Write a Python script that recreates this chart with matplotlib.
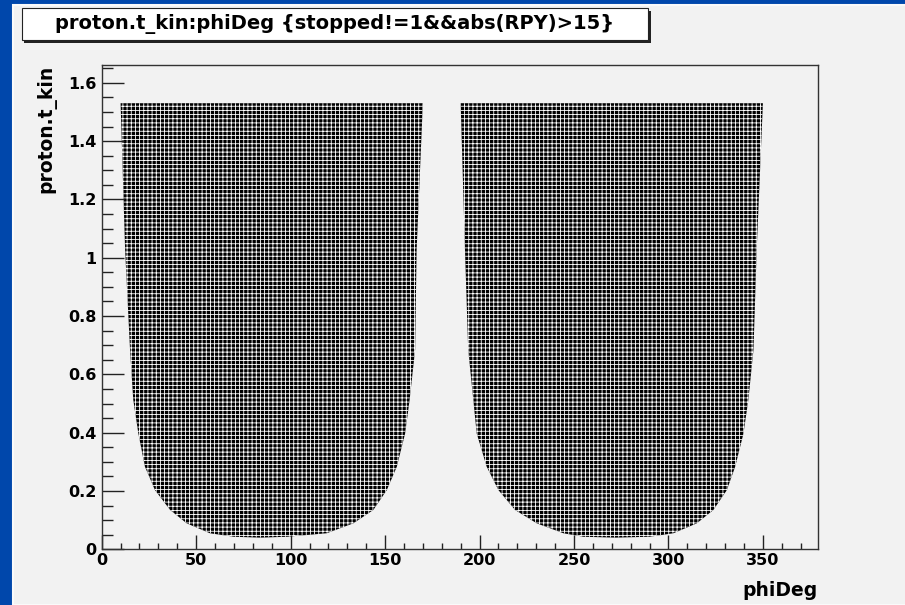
"""
proton.t_kin vs phiDeg, ROOT style canvas
"""
import numpy as np
import matplotlib
matplotlib.use('Agg')
import matplotlib.pyplot as plt
from matplotlib.patches import Rectangle
from matplotlib.ticker import MultipleLocator, FormatStrFormatter

# lower envelope of the populated band, top is flat
phi_left = [10, 12.4, 15.0, 16.7, 19.4, 22.9, 28.2, 36.2, 45, 57.3, 70, 84, 98,
            119.1, 133.2, 143.8, 150.9, 156.2, 160.6, 163, 165.9, 166.7, 170]
tmin_left = [1.53, 1.026, 0.684, 0.513, 0.397, 0.283, 0.203, 0.135, 0.089, 0.055, 0.043, 0.040, 0.043,
             0.055, 0.089, 0.135, 0.203, 0.283, 0.397, 0.513, 0.684, 1.026, 1.53]

phi_right = [190, 192.3, 194, 196.7, 198.5, 203.8, 210, 218.8, 230.3, 244.4, 255, 272, 290,
             302.6, 315, 323.8, 330.9, 335.3, 339.7, 342.3, 345, 346.7, 350]
tmin_right = [1.53, 1.026, 0.684, 0.513, 0.397, 0.283, 0.203, 0.135, 0.089, 0.055, 0.043, 0.040, 0.043,
              0.055, 0.089, 0.135, 0.203, 0.283, 0.397, 0.513, 0.684, 1.026, 1.53]

t_max = 1.53

x_ticks = [0, 50, 100, 150, 200, 250, 300, 350]
y_ticks = [0, 0.2, 0.4, 0.6, 0.8, 1.0, 1.2, 1.4, 1.6]

title_text = "proton.t_kin:phiDeg {stopped!=1&&abs(RPY)>15}"

plt.rcParams['font.family'] = 'DejaVu Sans'
plt.rcParams['font.weight'] = 'bold'
plt.rcParams['hatch.color'] = 'white'
plt.rcParams['hatch.linewidth'] = 0.6

W, H = 905, 605
fig = plt.figure(figsize=(W / 100., H / 100.), dpi=100, facecolor='#0047ab')

# grey canvas pad (thin light rim like the ROOT canvas border)
fig.patches.append(Rectangle((12.5 / W, 0), 1, (H - 5) / float(H), transform=fig.transFigure,
                             facecolor='#f2f2f2', edgecolor='#fafafa', linewidth=1.5, zorder=-5))

ax = fig.add_axes([101.7 / W, (H - 549.3) / H, 716. / W, 484. / H])
ax.set_facecolor('#f2f2f2')

for phi, tmin in [(phi_left, tmin_left), (phi_right, tmin_right)]:
    ax.fill_between(phi, tmin, t_max, facecolor='black', edgecolor='white',
                    linewidth=0, hatch='++++')

ax.set_xlim(0, 379)
ax.set_ylim(0, 1.66)

ax.set_xticks(x_ticks)
ax.set_yticks(y_ticks)
ax.xaxis.set_minor_locator(MultipleLocator(10))
ax.yaxis.set_minor_locator(MultipleLocator(0.05))
ax.yaxis.set_major_formatter(FormatStrFormatter('%g'))

ax.tick_params(axis='both', which='both', direction='in', color='#222222', width=1,
               labelsize=11.5, top=False, right=False)
ax.tick_params(axis='y', which='major', length=16, pad=4)
ax.tick_params(axis='y', which='minor', length=8)
ax.tick_params(axis='x', which='major', length=10, pad=3)
ax.tick_params(axis='x', which='minor', length=4.5)
for lab in ax.get_xticklabels() + ax.get_yticklabels():
    lab.set_fontweight('bold')

for s in ax.spines.values():
    s.set_color('#333333')
    s.set_linewidth(1)

fig.text(817.7 / W, 1 - 590. / H, 'phiDeg', ha='right', va='center', fontsize=13.5, fontweight='bold')
fig.text(46.7 / W, 1 - 65. / H, 'proton.t_kin', ha='center', va='top', rotation=90,
         fontsize=13.5, fontweight='bold')

# title box with shadow
bx0, by0, bx1, by1 = 21.7, 8.3, 648, 40
fig.patches.append(Rectangle(((bx0 + 2.5) / W, 1 - (by1 + 2.5) / H), (bx1 - bx0) / W, (by1 - by0) / H,
                             transform=fig.transFigure, facecolor='#222222', edgecolor='none', zorder=2))
fig.patches.append(Rectangle((bx0 / W, 1 - by1 / H), (bx1 - bx0) / W, (by1 - by0) / H,
                             transform=fig.transFigure, facecolor='white', edgecolor='#222222',
                             linewidth=0.8, zorder=3))
fig.text((bx0 + bx1) / 2. / W, 1 - (by0 + by1) / 2. / H, title_text, ha='center', va='center',
         fontsize=14, fontweight='bold', zorder=4)

fig.savefig('out.png', dpi=100, facecolor=fig.get_facecolor())
